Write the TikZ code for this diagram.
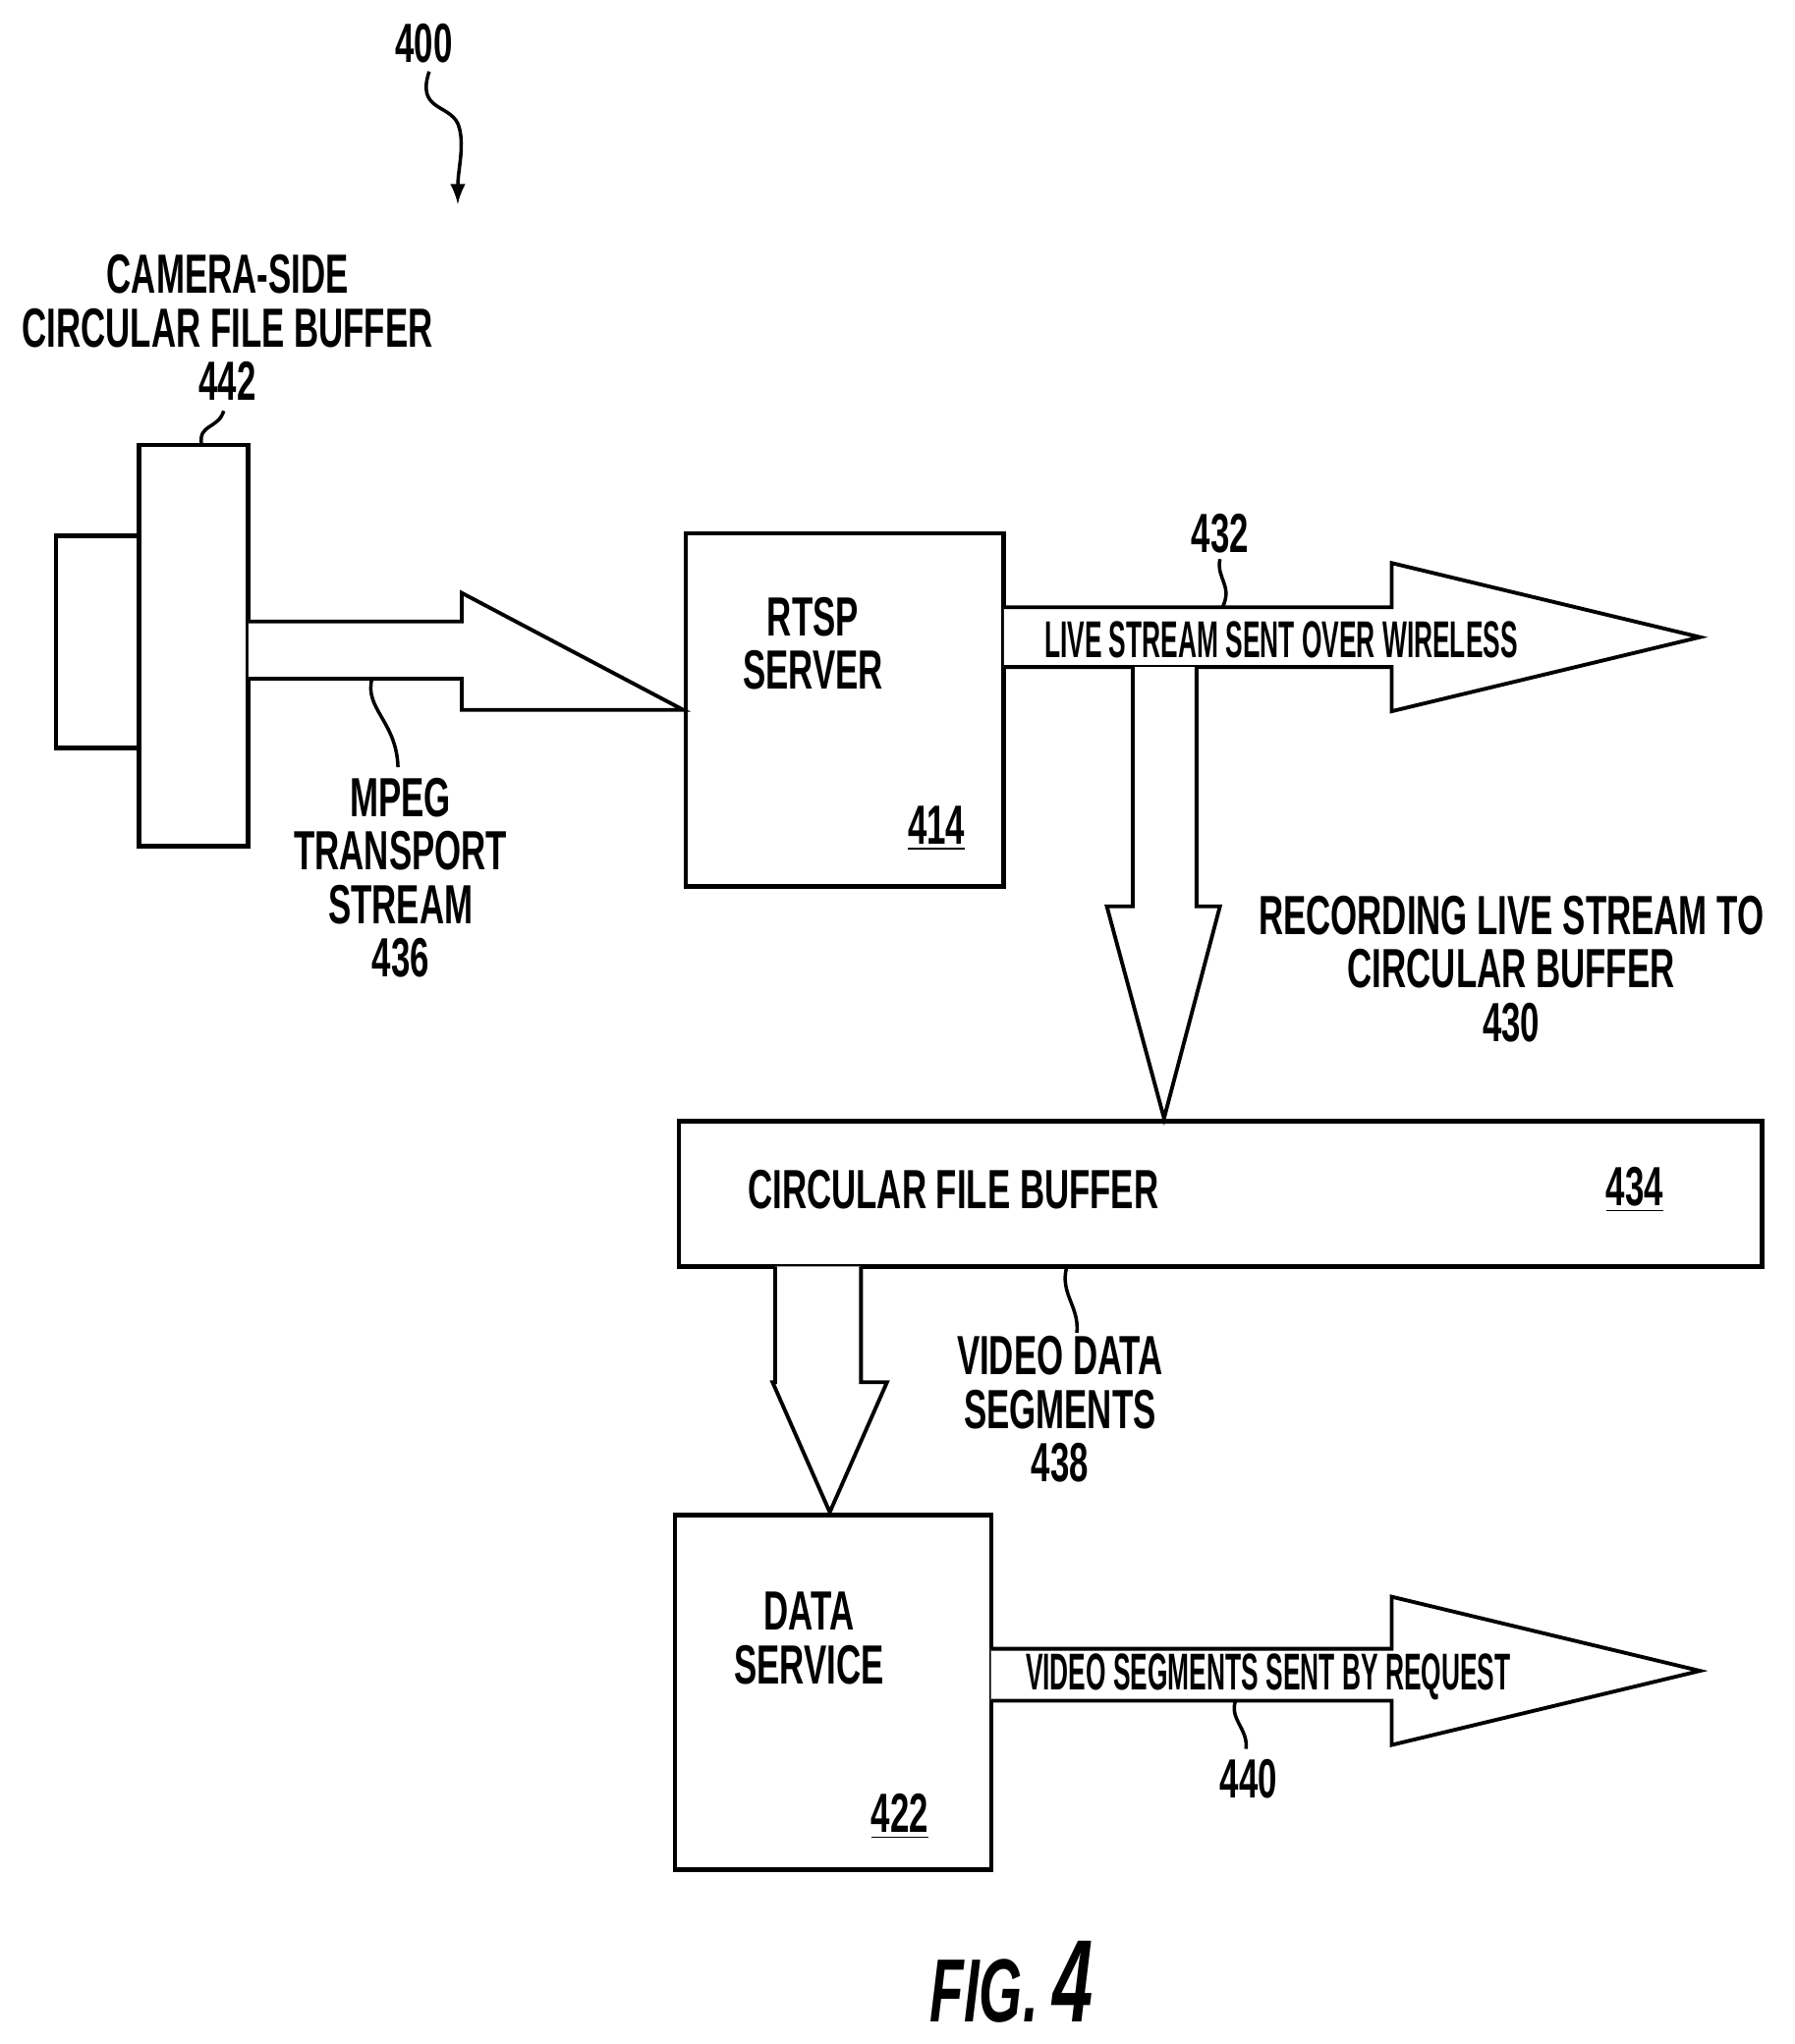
\documentclass[tikz,border=0pt]{standalone}
\usepackage{fontspec}
\setmainfont{Liberation Sans}[FakeStretch=0.62]
\newfontfamily\narrowfont{Liberation Sans}[FakeStretch=0.5]
\usetikzlibrary{positioning}
\tikzset{box/.style={draw,line width=1.3pt,inner sep=0pt}}
\tikzset{lbl/.style={font=\fontsize{16}{15.5}\selectfont\bfseries,align=center,inner sep=1pt}}
\tikzset{inarrow/.style={font=\fontsize{15}{15}\selectfont\narrowfont\bfseries,inner sep=1pt}}
\tikzset{blk/.style={draw,line width=1.1pt,fill=white,line join=miter}}
\tikzset{sq/.style={line width=1pt}}
\begin{document}
\begin{tikzpicture}[x=0.01324cm,y=-0.01324cm]
        \useasboundingbox (0,0) rectangle (1380,1572);
        % boxes
        \node[box, minimum width=0.85cm, minimum height=2.16cm] (cam) at (75,493.5) {};
        \node[box, minimum width=1.11cm, minimum height=4.09cm, fill=white] (cbuf) at (149,496.5) {};
        \node[box, minimum width=3.24cm, minimum height=3.60cm] (rtsp) at (649.5,546) {};
        \node[box, minimum width=11.03cm, minimum height=1.48cm] (circ) at (938.5,918) {};
        \node[box, minimum width=3.22cm, minimum height=3.61cm] (data) at (640.5,1301.5) {};

        % block arrows
        \draw[blk] (191,478) -- (355,478) -- (355,456) -- (rtsp.west) -- (355,546) -- (355,522) -- (191,522);
        \draw[blk] (772,467) -- (1070,467) -- (1070,433) -- (1307,490) -- (1070,547) -- (1070,513) -- (772,513);
        \draw[blk] (871,513) -- (871,697) -- (851,697) -- (895,860) -- (938,697) -- (920,697) -- (920,513);
        \draw[blk] (596,974) -- (596,1063) -- (594,1063) -- (638,1163) -- (682,1063) -- (662,1063) -- (662,974);
        \draw[blk] (762,1268) -- (1070,1268) -- (1070,1228) -- (1307,1285) -- (1070,1342) -- (1070,1308) -- (762,1308);

        % texts
        \node[lbl] (rtspt) at (625,495) {RTSP\\SERVER};
        \node[lbl] (n414) at (720,637) {\underline{414}};
        \node[inarrow] (live) at (985,492) {LIVE STREAM SENT OVER WIRELESS};
        \node[lbl] (circt) at (733,915) {CIRCULAR FILE BUFFER};
        \node[lbl] (n434) at (1257,915) {\underline{434}};
        \node[lbl] (datat) at (622,1260) {DATA\\SERVICE};
        \node[lbl] (n422) at (692,1397) {\underline{422}};
        \node[inarrow] (segs) at (975,1290) {VIDEO SEGMENTS SENT BY REQUEST};
        \node[lbl] (n400) at (326,33) {400};
        \node[lbl] (camt) at (175,252) {CAMERA-SIDE\\CIRCULAR FILE BUFFER\\442};
        \node[lbl] (n432) at (938,410) {432};
        \node[lbl] (mpeg) at (308,675) {MPEG\\TRANSPORT\\STREAM\\436};
        \node[lbl] (rec) at (1162,745) {RECORDING LIVE STREAM TO\\CIRCULAR BUFFER\\430};
        \node[lbl] (vds) at (815,1084) {VIDEO DATA\\SEGMENTS\\438};
        \node[lbl] (n440) at (960,1368) {440};
        \node[font=\fontsize{26}{30}\selectfont\bfseries\itshape,inner sep=0pt] (fig) at (778,1524) {FIG.\,\fontsize{34}{34}\selectfont 4};

        % leaders
        \coordinate (a400) at (352,157);
        \draw[sq,-latex] (330,55) .. controls (320,85) and (345,80) .. (352,95) .. controls (358,110) and (352,130) .. (a400);
        \draw[sq] (172,316) .. controls (168,330) and (152,326) .. (155,342);
        \draw[sq] (938,430) .. controls (935,445) and (948,450) .. (940,467);
        \draw[sq] (286,522) .. controls (280,545) and (305,555) .. (306,590);
        \draw[sq] (820,975) .. controls (815,995) and (830,1005) .. (828,1025);
        \draw[sq] (950,1308) .. controls (945,1322) and (960,1330) .. (958,1345);
\end{tikzpicture}
\end{document}
